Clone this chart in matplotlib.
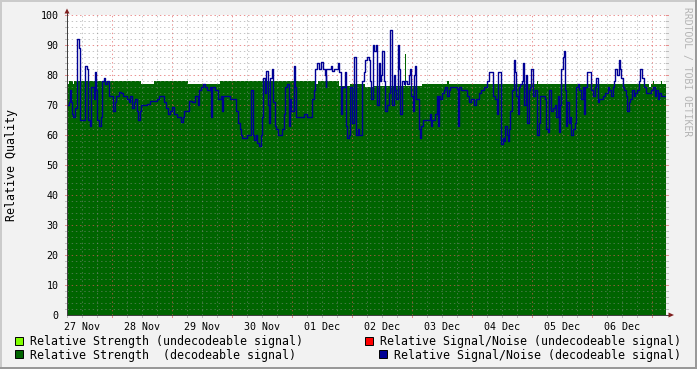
import matplotlib
matplotlib.use("Agg")
import matplotlib.pyplot as plt
from matplotlib.patches import Rectangle, Polygon

plt.rcParams['font.family'] = ['DejaVu Sans Mono']

# hours since 27 Nov 06:00, ten days shown
day_labels = ['27 Nov', '28 Nov', '29 Nov', '30 Nov', '01 Dec',
              '02 Dec', '03 Dec', '04 Dec', '05 Dec', '06 Dec']

# Relative Strength (decodeable signal)
strength_hours = [0, 0.8, 2.3, 2.9, 29.5, 34.8, 48.4, 61.2, 99.3, 100.4,
                  108.7, 113.3, 119.3, 122.7, 135.3, 135.7, 142.0, 152.0, 152.7, 157.0,
                  157.3, 188.0, 188.3, 232.9, 233.7, 234.3, 234.6, 237.7, 238.0, 239.6]
strength_values = [77, 78, 77, 78, 77, 78, 77, 78, 77, 78,
                   76.5, 77, 76, 76.5, 87, 76.5, 77, 78, 77, 78,
                   77, 78, 77, 76, 77, 78, 77, 78, 77, 77]

# Relative Signal/Noise (decodeable signal)
snr_hours = [
    0, 0.9, 1.3, 1.6, 1.9, 2.3, 3.3, 4.0, 4.7, 5.1,
    7.1, 8.0, 8.3, 9.3, 9.7, 10.7, 11.1, 11.3, 11.7, 12.1,
    12.7, 13.5, 13.9, 14.1, 14.7, 15.1, 16.1, 16.9, 18.5, 19.1,
    19.7, 20.7, 21.7, 22.4, 24.0, 24.7, 25.3, 26.0, 26.7, 27.3,
    28.0, 28.4, 29.1, 29.5, 30.7, 32.0, 33.3, 34.7, 36.0, 36.7,
    38.7, 39.6, 40.4, 41.3, 42.0, 42.7, 44.0, 45.3, 45.7, 46.3,
    46.7,
    48.7, 50.0, 51.3, 52.4, 52.9, 53.7, 54.3, 55.3, 56.1, 57.3,
    57.6, 58.0, 59.3, 60.4, 61.7, 62.0, 62.4, 65.3, 67.3, 67.7,
    68.4, 69.1, 69.6, 70.0, 72.0, 73.3, 73.7, 74.3, 74.7, 75.6,
    76.0, 76.9, 77.6, 78.0, 78.4, 79.1, 79.7, 80.3, 80.7, 81.1,
    81.3, 82.0, 82.5, 83.1, 83.7, 84.4, 86.0, 86.7, 87.3, 88.0,
    88.7, 89.1, 89.7, 90.7, 91.1, 91.6,
    94.7, 96.0, 98.0, 98.7, 99.1, 100.0, 100.9, 101.7, 102.3, 103.1,
    103.4, 103.6, 105.7, 106.0, 106.7, 108.4, 108.9, 109.6, 110.0, 111.1,
    111.5, 111.9, 112.7, 113.3, 114.0, 114.7, 115.6, 116.4, 116.9, 118.0,
    118.7, 119.3, 120.0, 120.7, 121.3, 121.7, 122.3, 122.7, 123.6, 124.1,
    124.7, 125.3, 125.7, 126.0, 126.7, 127.1, 128.0, 128.7, 129.1, 130.0,
    130.7, 131.3, 131.7, 132.3, 132.9, 133.3, 134.0, 134.7, 135.3, 136.0,
    136.7, 137.3, 137.7, 138.3, 138.7, 139.3, 139.7, 140.7, 140.9, 141.3,
    141.7,
    142.3, 145.3, 145.6, 146.0, 147.3, 148.0, 148.3, 148.6, 149.3, 150.0,
    150.7, 151.3, 152.0, 152.7, 153.3, 156.0, 156.4, 156.9, 157.7, 160.0,
    160.7, 161.7, 162.7, 163.7, 164.7, 165.7, 166.7, 168.0, 168.7, 170.4,
    171.3, 172.0, 172.4, 173.1, 173.5, 173.7, 174.4, 174.8, 175.3, 176.0,
    176.4, 176.9, 177.3, 178.0, 178.7, 179.3, 179.7, 180.3, 180.7, 181.3,
    182.0, 182.4, 182.9, 183.6, 184.0, 184.7, 185.3, 185.7, 186.3, 187.1,
    188.0, 188.7, 189.3,
    191.1, 191.6, 192.4, 192.9, 193.6, 194.4, 195.1, 195.6, 196.3, 196.7,
    197.1, 197.7, 198.3, 198.8, 199.2, 199.6, 200.1, 200.7, 201.3, 201.7,
    202.3, 203.1, 203.6, 204.4, 204.9, 205.6, 206.3, 206.8, 207.3, 208.0,
    209.7, 210.3, 211.1, 211.7, 212.3, 212.9, 214.3, 215.3, 216.3, 216.9,
    217.6, 218.3, 218.9, 219.3, 220.0, 220.7, 221.2, 221.7, 222.3, 222.9,
    223.6, 224.1, 224.7, 225.3, 226.0, 226.7, 227.3, 228.0, 228.7, 229.3,
    230.0, 230.7, 231.6, 233.7, 234.3, 235.1, 235.6, 236.4, 236.9, 237.7,
    239.6]
snr_values = [
    70, 71, 75, 71, 67, 66, 69, 92, 89, 65,
    83, 82, 65, 63, 76, 72, 76, 81, 75, 65,
    63, 66, 71, 78, 79, 77, 78, 73, 68, 71,
    73, 74.5, 74, 73, 72, 71, 73, 69, 71, 72,
    68, 65, 68, 70, 70, 70.5, 71.5, 71.5, 72, 73,
    71, 69, 67, 68, 69.5, 67, 66, 66, 64.5, 66,
    68,
    71.5, 71, 73, 70, 75, 76, 77, 76, 75, 76,
    66, 76, 75, 72, 73, 68, 73, 72, 72, 68,
    64, 62, 60, 59, 60, 60, 75, 60, 58.5, 60,
    57.5, 56.5, 60, 66, 79, 74, 81.5, 70, 64, 76,
    79, 82, 71, 63, 62, 60, 62, 67, 76, 77,
    63, 72, 68, 83, 76, 66,
    67, 66, 72, 75, 82, 84, 82, 84.5, 82, 80,
    76, 82, 83, 81.5, 82, 84, 81, 67, 76, 81,
    63, 59, 60, 76, 64, 86, 60, 62, 60, 78,
    81, 85, 86, 85, 78, 72, 90, 88, 90, 70,
    84, 78, 80, 88, 78, 68, 70, 74, 95, 70,
    80, 75, 72, 90, 82, 67, 78, 77, 78, 77,
    80, 82, 73, 68, 80, 83, 72, 69, 62, 59,
    63,
    65, 67, 63, 65, 67, 73, 63, 73, 72, 74,
    75, 76, 73, 75, 76, 75.5, 63, 76, 75, 73,
    71, 72, 70, 72, 74, 75, 76, 78, 81, 73,
    72, 67, 81, 81, 62, 57, 59, 58, 63, 60,
    58, 62, 68, 75, 85, 81, 73, 67, 76, 77,
    78, 84, 70, 80, 64, 75, 76, 82, 73, 75,
    60, 64, 73,
    72, 62, 61, 75, 68, 69, 70, 66, 73, 61,
    70, 82, 86, 88, 75, 63, 71, 64, 66, 60,
    62, 64, 76, 77, 75, 72, 76, 67, 76, 81,
    75, 73, 76, 79, 71, 72, 73, 74, 76, 75,
    73, 76, 78, 82, 80, 85, 82, 79, 76, 75,
    73, 68, 71, 72, 75, 73, 74, 75, 78, 82,
    79, 76, 74, 75, 76, 73, 75, 72, 74, 73,
    73]

# undecodeable series carry no data in this period
strength_undec_hours, strength_undec_values = [], []
snr_undec_hours, snr_undec_values = [], []

legend_labels = ['Relative Strength (undecodeable signal)',
                 'Relative Strength  (decodeable signal)',
                 'Relative Signal/Noise (undecodeable signal)',
                 'Relative Signal/Noise (decodeable signal)']

W, H = 697, 369
C_GREEN = '#006400'
C_LIME = '#80ff00'
C_RED = '#ff0000'
C_BLUE = '#000094'


def fig_xy(x, y):
    return x / W, 1 - y / H


fig = plt.figure(figsize=(W / 100, H / 100), dpi=100, facecolor='#f2f2f2')

# 3d-ish frame like rrdtool
tf = fig.transFigure
fig.patches.append(Rectangle((0, 1 - 2 / H), 1, 2 / H, transform=tf, color='#cbcbcb', lw=0))
fig.patches.append(Rectangle((0, 0), 2 / W, 1, transform=tf, color='#cbcbcb', lw=0))
fig.patches.append(Rectangle((0, 0), 1, 2 / H, transform=tf, color='#999999', lw=0))
fig.patches.append(Rectangle((1 - 2 / W, 0), 2 / W, 1, transform=tf, color='#999999', lw=0))

ax_l, ax_t, ax_w, ax_h = 67, 15, 599, 300
ax = fig.add_axes([ax_l / W, 1 - (ax_t + ax_h) / H, ax_w / W, ax_h / H])
ax.set_facecolor('white')
t_end = 239.6
ax.set_xlim(0, t_end)
ax.set_ylim(0, 100)
for s in ax.spines.values():
    s.set_visible(False)

ax.fill_between(strength_hours, 0, strength_values, step='post', color=C_GREEN, lw=0, zorder=1)
ax.fill_between(strength_undec_hours, 0, strength_undec_values, step='post', color=C_LIME, lw=0, zorder=1)
ax.step(snr_undec_hours, snr_undec_values, where='post', color=C_RED, lw=1.0, zorder=4)
ax.step(snr_hours, snr_values, where='post', color=C_BLUE, lw=1.0, zorder=4)

# grid: minor every 6h / 2 units, major at midnight / 10 units
minor_c = (0.55, 0.55, 0.55, 0.5)
major_c = (0.88, 0.35, 0.35, 0.65)
xtr = ax.get_xaxis_transform()
ytr = ax.get_yaxis_transform()
grid_kw = dict(lw=0.72, dashes=(1.4, 2.8), zorder=3)
for h in range(0, 240, 6):
    major = (h - 18) % 24 == 0
    c = major_c if major else minor_c
    ax.axvline(h, color=c, **grid_kw)
    ax.plot([h, h], [0, -2 / ax_h], transform=xtr, color=c, lw=0.72, clip_on=False, zorder=3)
for v in range(2, 101, 2):
    c = major_c if v % 10 == 0 else minor_c
    ax.axhline(v, color=c, **grid_kw)
    ax.plot([-2 / ax_w, 0], [v, v], transform=ytr, color=c, lw=0.72, clip_on=False, zorder=3)
    ax.plot([1, 1 + 2 / ax_w], [v, v], transform=ytr, color=c, lw=0.72, clip_on=False, zorder=3)

# axes with arrows
ax_col = '#404040'
arr_col = '#7f1f1f'
ax.plot([0, 0], [0, 1 + 2 / ax_h], transform=ax.transAxes, color=ax_col, lw=0.72, clip_on=False, zorder=5)
ax.plot([0, 1 + 3 / ax_w], [0, 0], transform=ax.transAxes, color=ax_col, lw=0.72, clip_on=False, zorder=5)
ax.add_patch(Polygon([(-2.5 / ax_w, 1 + 1.5 / ax_h), (2.5 / ax_w, 1 + 1.5 / ax_h), (0, 1 + 6.5 / ax_h)],
                     closed=True, transform=ax.transAxes, color=arr_col, lw=0, clip_on=False, zorder=6))
ax.add_patch(Polygon([(1 + 2.5 / ax_w, -2.5 / ax_h), (1 + 2.5 / ax_w, 2.5 / ax_h), (1 + 8 / ax_w, 0)],
                     closed=True, transform=ax.transAxes, color=arr_col, lw=0, clip_on=False, zorder=6))

# tick labels
noon = [6 + 24 * i for i in range(len(day_labels))]
ax.set_xticks(noon, day_labels)
ax.set_yticks(range(0, 101, 10))
ax.tick_params(axis='x', length=0, pad=5, labelsize=7.2)
ax.tick_params(axis='y', length=0, pad=6, labelsize=7.2)

fig.text(*fig_xy(12, 165), 'Relative Quality', rotation=90, ha='center', va='center', fontsize=8.4)
fig.text(*fig_xy(687, 72), 'RRDTOOL / TOBI OETIKER', rotation=270, ha='center', va='center',
         fontsize=7.0, color='#b4b4b4')

# legend, rrdtool style
legend_items = [
    (15, 337, 30, 341, C_LIME, legend_labels[0]),
    (15, 350, 30, 355, C_GREEN, legend_labels[1]),
    (365, 337, 380, 341, C_RED, legend_labels[2]),
    (379, 350, 394, 355, C_BLUE, legend_labels[3]),
]
for bx, by, tx, ty, col, lab in legend_items:
    x0, y0 = fig_xy(bx, by + 8)
    fig.patches.append(Rectangle((x0, y0), 8 / W, 8 / H, transform=tf, facecolor=col,
                                 edgecolor='black', lw=0.7))
    fig.text(*fig_xy(tx, ty), lab, ha='left', va='center', fontsize=8.4)

fig.savefig('out.png', dpi=100, facecolor=fig.get_facecolor())
